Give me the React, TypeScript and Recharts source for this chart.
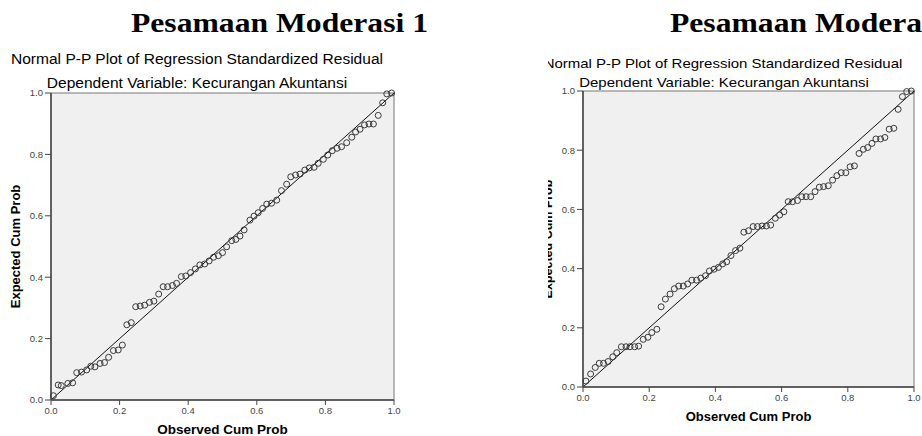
import React from 'react'
import {
  ScatterChart, Scatter, XAxis, YAxis, ReferenceArea, ReferenceLine, Label
} from 'recharts'

// values
const axisTicks = [0, 0.2, 0.4, 0.6, 0.8, 1]

const observed1 = [
  0.007, 0.021, 0.030, 0.049, 0.063, 0.075, 0.089, 0.104, 0.116, 0.128,
  0.143, 0.156, 0.168, 0.182, 0.196, 0.208, 0.221, 0.234, 0.247, 0.260,
  0.273, 0.287, 0.300, 0.314, 0.327, 0.340, 0.354, 0.366, 0.380, 0.393,
  0.407, 0.421, 0.434, 0.448, 0.461, 0.474, 0.488, 0.500, 0.512, 0.527,
  0.539, 0.551, 0.563, 0.580, 0.592, 0.604, 0.617, 0.629, 0.643, 0.658,
  0.672, 0.687, 0.699, 0.713, 0.726, 0.740, 0.753, 0.767, 0.779, 0.794,
  0.807, 0.820, 0.834, 0.847, 0.862, 0.877, 0.888, 0.901, 0.914, 0.927,
  0.940, 0.954, 0.967, 0.979, 0.993,
]
const expected1 = [
  0.014, 0.049, 0.047, 0.054, 0.056, 0.089, 0.091, 0.098, 0.110, 0.108,
  0.119, 0.122, 0.139, 0.161, 0.163, 0.179, 0.245, 0.252, 0.304, 0.306,
  0.309, 0.318, 0.322, 0.345, 0.369, 0.369, 0.373, 0.380, 0.402, 0.404,
  0.415, 0.427, 0.440, 0.443, 0.453, 0.465, 0.470, 0.480, 0.499, 0.519,
  0.523, 0.534, 0.554, 0.586, 0.599, 0.610, 0.624, 0.638, 0.641, 0.651,
  0.682, 0.703, 0.727, 0.733, 0.736, 0.749, 0.756, 0.758, 0.771, 0.784,
  0.798, 0.812, 0.820, 0.825, 0.838, 0.856, 0.873, 0.882, 0.896, 0.899,
  0.899, 0.927, 0.968, 0.997, 1.000,
]

const observed2 = [
  0.009, 0.023, 0.037, 0.049, 0.062, 0.076, 0.090, 0.102, 0.116, 0.130,
  0.142, 0.156, 0.168, 0.182, 0.196, 0.208, 0.223, 0.236, 0.249, 0.263,
  0.276, 0.289, 0.303, 0.316, 0.329, 0.343, 0.356, 0.370, 0.382, 0.396,
  0.409, 0.422, 0.434, 0.447, 0.461, 0.474, 0.486, 0.500, 0.514, 0.527,
  0.541, 0.554, 0.567, 0.581, 0.594, 0.607, 0.620, 0.633, 0.648, 0.661,
  0.674, 0.688, 0.701, 0.714, 0.727, 0.741, 0.754, 0.767, 0.780, 0.794,
  0.807, 0.820, 0.834, 0.847, 0.860, 0.873, 0.885, 0.899, 0.912, 0.925,
  0.939, 0.952, 0.965, 0.978, 0.992,
]
const expected2 = [
  0.020, 0.044, 0.066, 0.080, 0.080, 0.086, 0.102, 0.116, 0.136, 0.136,
  0.136, 0.136, 0.138, 0.161, 0.168, 0.184, 0.195, 0.271, 0.297, 0.314,
  0.332, 0.341, 0.341, 0.348, 0.361, 0.361, 0.368, 0.376, 0.392, 0.398,
  0.404, 0.416, 0.423, 0.444, 0.461, 0.469, 0.523, 0.528, 0.542, 0.542,
  0.544, 0.544, 0.547, 0.570, 0.581, 0.592, 0.626, 0.626, 0.630, 0.643,
  0.643, 0.643, 0.660, 0.675, 0.677, 0.680, 0.699, 0.714, 0.724, 0.724,
  0.744, 0.747, 0.789, 0.803, 0.809, 0.823, 0.838, 0.838, 0.843, 0.871,
  0.874, 0.938, 0.981, 0.998, 1.000,
]

const diagonal = [{ x: 0, y: 0 }, { x: 1, y: 1 }]

const headings = ['Pesamaan Moderasi 1', 'Pesamaan Moderasi 2']
const plotTitle = 'Normal P-P Plot of Regression Standardized Residual'
const plotSubtitle = 'Dependent Variable: Kecurangan Akuntansi'
const xLabel = 'Observed Cum Prob'
const yLabel = 'Expected Cum Prob'

const sans = '"Liberation Sans", Arial, sans-serif'
const serif = '"Liberation Serif", "Times New Roman", serif'

function toPoints(xs: number[], ys: number[]) {
  return xs.map((x, i) => ({ x, y: ys[i] }))
}

const OpenCircle = (props: any) => (
  <circle cx={props.cx} cy={props.cy} r={3} fill="none" stroke="#3a3a3a" strokeWidth={1} />
)

interface PanelProps {
  data: { x: number; y: number }[]
  width: number
  height: number
  marginTop: number
  marginRight: number
  yAxisWidth: number
  xAxisHeight: number
  yLabelOffset: number
  xLabelOffset: number
  labelSize: number
}

function PPPlot(p: PanelProps) {
  const axisStroke = { stroke: '#444', strokeWidth: 1.5 }
  return (
    <ScatterChart
      width={p.width}
      height={p.height}
      margin={{ top: p.marginTop, right: p.marginRight, left: 0, bottom: 0 }}
    >
      <ReferenceArea x1={0} x2={1} y1={0} y2={1} fill="#f0f0f0" fillOpacity={1} stroke="#777" strokeWidth={1} />
      <XAxis
        type="number"
        dataKey="x"
        domain={[0, 1]}
        ticks={axisTicks}
        tickFormatter={(v) => v.toFixed(1)}
        height={p.xAxisHeight}
        tickSize={5}
        tick={{ fontSize: 9.5, fill: '#444' }}
        tickLine={{ stroke: '#444' }}
        axisLine={axisStroke}
      >
        <Label
          value={xLabel}
          position="insideBottom"
          offset={p.xLabelOffset}
          style={{ fontSize: p.labelSize, fontWeight: 'bold', fill: '#000' }}
        />
      </XAxis>
      <YAxis
        type="number"
        dataKey="y"
        domain={[0, 1]}
        ticks={axisTicks}
        tickFormatter={(v) => v.toFixed(1)}
        width={p.yAxisWidth}
        tickSize={6}
        tick={{ fontSize: 9.5, fill: '#444' }}
        tickLine={{ stroke: '#444' }}
        axisLine={axisStroke}
      >
        <Label
          value={yLabel}
          angle={-90}
          position="insideLeft"
          offset={p.yLabelOffset}
          style={{ textAnchor: 'middle', fontSize: p.labelSize - 0.5, fontWeight: 'bold', fill: '#000' }}
        />
      </YAxis>
      <ReferenceLine segment={diagonal} stroke="#111" strokeWidth={1} />
      <Scatter data={p.data} shape={OpenCircle} isAnimationActive={false} />
    </ScatterChart>
  )
}

const headingStyle: React.CSSProperties = {
  position: 'absolute',
  top: 9,
  fontFamily: serif,
  fontWeight: 'bold',
  fontSize: 28,
  lineHeight: '28px',
  whiteSpace: 'nowrap',
  transform: 'scaleX(1.13)',
  transformOrigin: 'left top',
}

function centeredText(center: number, top: number, size: number): React.CSSProperties {
  return {
    position: 'absolute',
    left: center - 250,
    width: 500,
    top,
    textAlign: 'center',
    fontFamily: sans,
    fontSize: size,
    lineHeight: `${size}px`,
    whiteSpace: 'nowrap',
    transform: 'scaleX(1.11)',
    transformOrigin: 'center top',
  }
}

export default function App() {
  return (
    <div
      style={{
        position: 'absolute', left: 0, top: 0, width: 922, height: 436,
        overflow: 'hidden', background: '#fff', fontFamily: sans, color: '#000',
      }}
    >
      <div style={{ ...headingStyle, left: 131 }}>{headings[0]}</div>
      <div style={{ ...headingStyle, left: 670 }}>{headings[1]}</div>

      <div style={{ position: 'absolute', left: 0, top: 0, width: 410, height: 436 }}>
        <div style={centeredText(197, 52, 14)}>{plotTitle}</div>
        <div style={centeredText(197, 76, 14)}>{plotSubtitle}</div>
        <PPPlot
          data={toPoints(observed1, expected1)}
          width={410}
          height={436}
          marginTop={93}
          marginRight={16}
          yAxisWidth={51}
          xAxisHeight={36}
          yLabelOffset={15}
          xLabelOffset={2}
          labelSize={13.5}
        />
      </div>

      <div style={{ position: 'absolute', left: 548, top: 0, width: 374, height: 436, overflow: 'hidden' }}>
        <div style={centeredText(174.5, 57, 13.5)}>{plotTitle}</div>
        <div style={centeredText(176, 75.5, 13.5)}>{plotSubtitle}</div>
        <PPPlot
          data={toPoints(observed2, expected2)}
          width={374}
          height={436}
          marginTop={91}
          marginRight={8}
          yAxisWidth={35}
          xAxisHeight={49}
          yLabelOffset={0}
          xLabelOffset={15}
          labelSize={13}
        />
      </div>
    </div>
  )
}
